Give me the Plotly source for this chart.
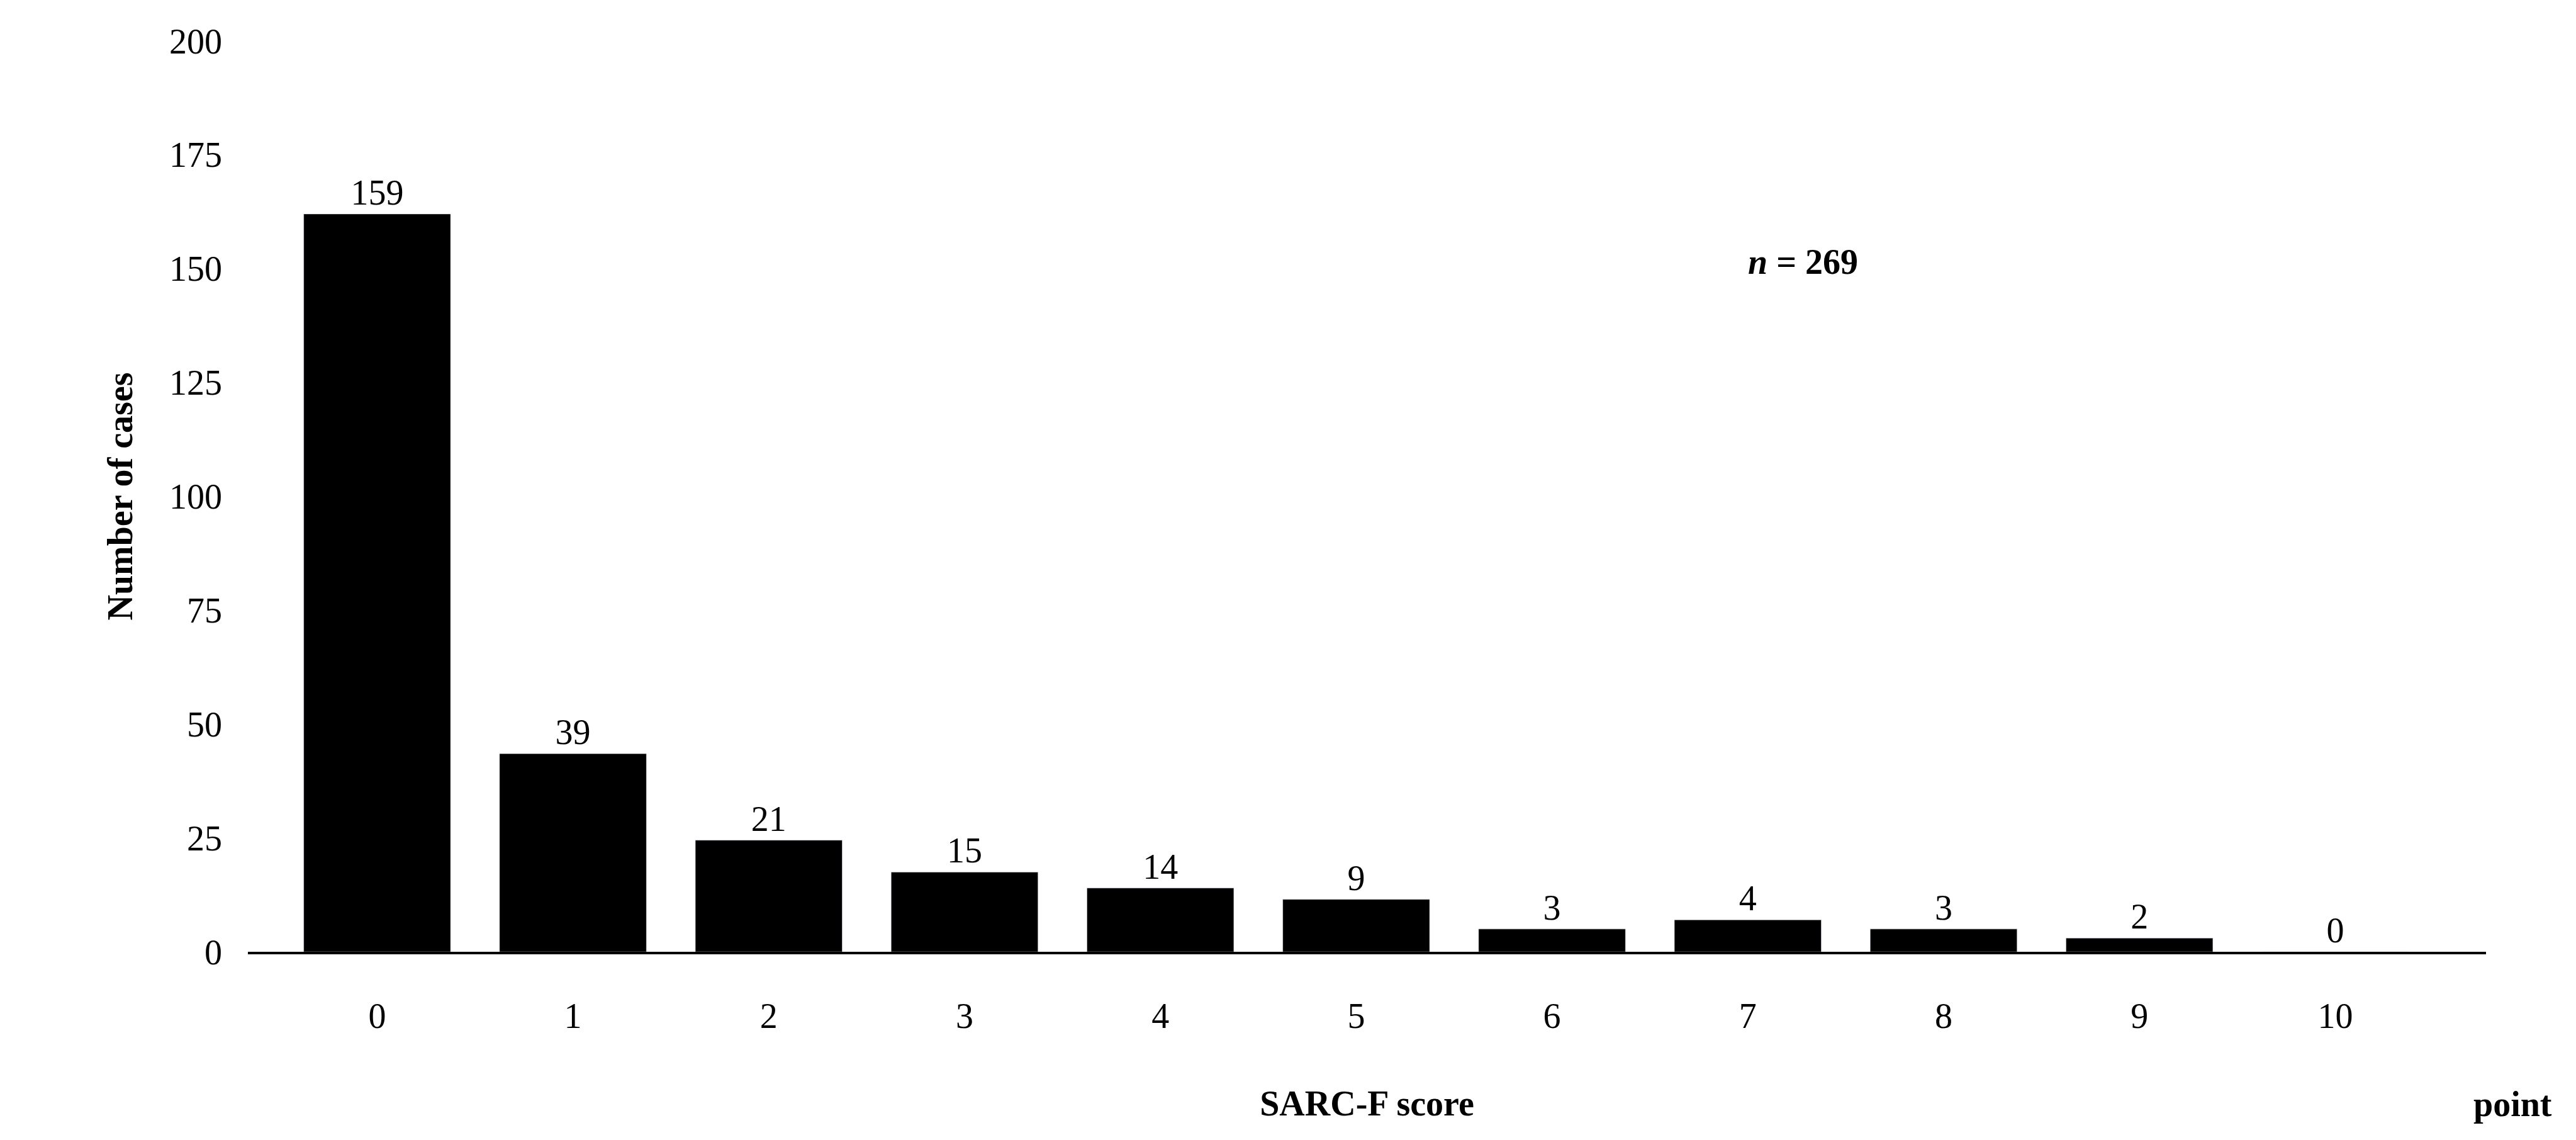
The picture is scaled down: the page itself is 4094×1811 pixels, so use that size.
import plotly.graph_objects as go

scores = ["0","1","2","3","4","5","6","7","8","9","10"]
bar_heights = [162, 43.5, 24.5, 17.5, 14, 11.5, 5, 7, 5, 3, 0]
count_labels = ["159","39","21","15","14","9","3","4","3","2","0"]
y_ticks = [0, 25, 50, 75, 100, 125, 150, 175, 200]

F = "Liberation Serif"
fig = go.Figure(go.Bar(
    x=list(range(len(scores))), y=bar_heights, marker_color="black", width=0.75,
    text=count_labels, textposition="outside", cliponaxis=False,
    textfont=dict(family=F, size=56, color="black"),
))
fig.update_layout(
    width=4094, height=1811, paper_bgcolor="white", plot_bgcolor="white",
    margin=dict(l=386, r=151, t=57, b=307), showlegend=False,
    font=dict(family=F, size=56, color="black"), bargap=0.25,
    uniformtext=dict(minsize=56, mode="show"),
)
fig.update_xaxes(range=[-0.66, 10.77], tickvals=list(range(len(scores))), ticktext=scores,
                 showline=True, linecolor="black", linewidth=4, ticks="", showgrid=False,
                 tickfont=dict(family=F, size=56), ticklabelstandoff=50,
                 title=dict(text="<b>SARC-F score</b>", font=dict(family=F, size=56), standoff=90))
fig.update_xaxes(tickprefix="<b>", ticksuffix="</b>")
fig.update_yaxes(range=[0, 200], tickvals=y_ticks, showgrid=False, showline=False, ticks="",
                 zeroline=False, tickprefix="<b>", ticksuffix="</b>", ticklabelstandoff=40,
                 tickfont=dict(family=F, size=56),
                 title=dict(text="<b>Number of cases</b>", font=dict(family=F, size=56), standoff=40))
fig.add_annotation(x=0.72, y=0.78, xref="paper", yref="paper", showarrow=False,
                   text="<b><i>n</i> = 269</b>", font=dict(family=F, size=56))
fig.add_annotation(x=1.03, y=-0.19, xref="paper", yref="paper", showarrow=False,
                   text="<b>point</b>", font=dict(family=F, size=56))
fig.write_html("out.html")
